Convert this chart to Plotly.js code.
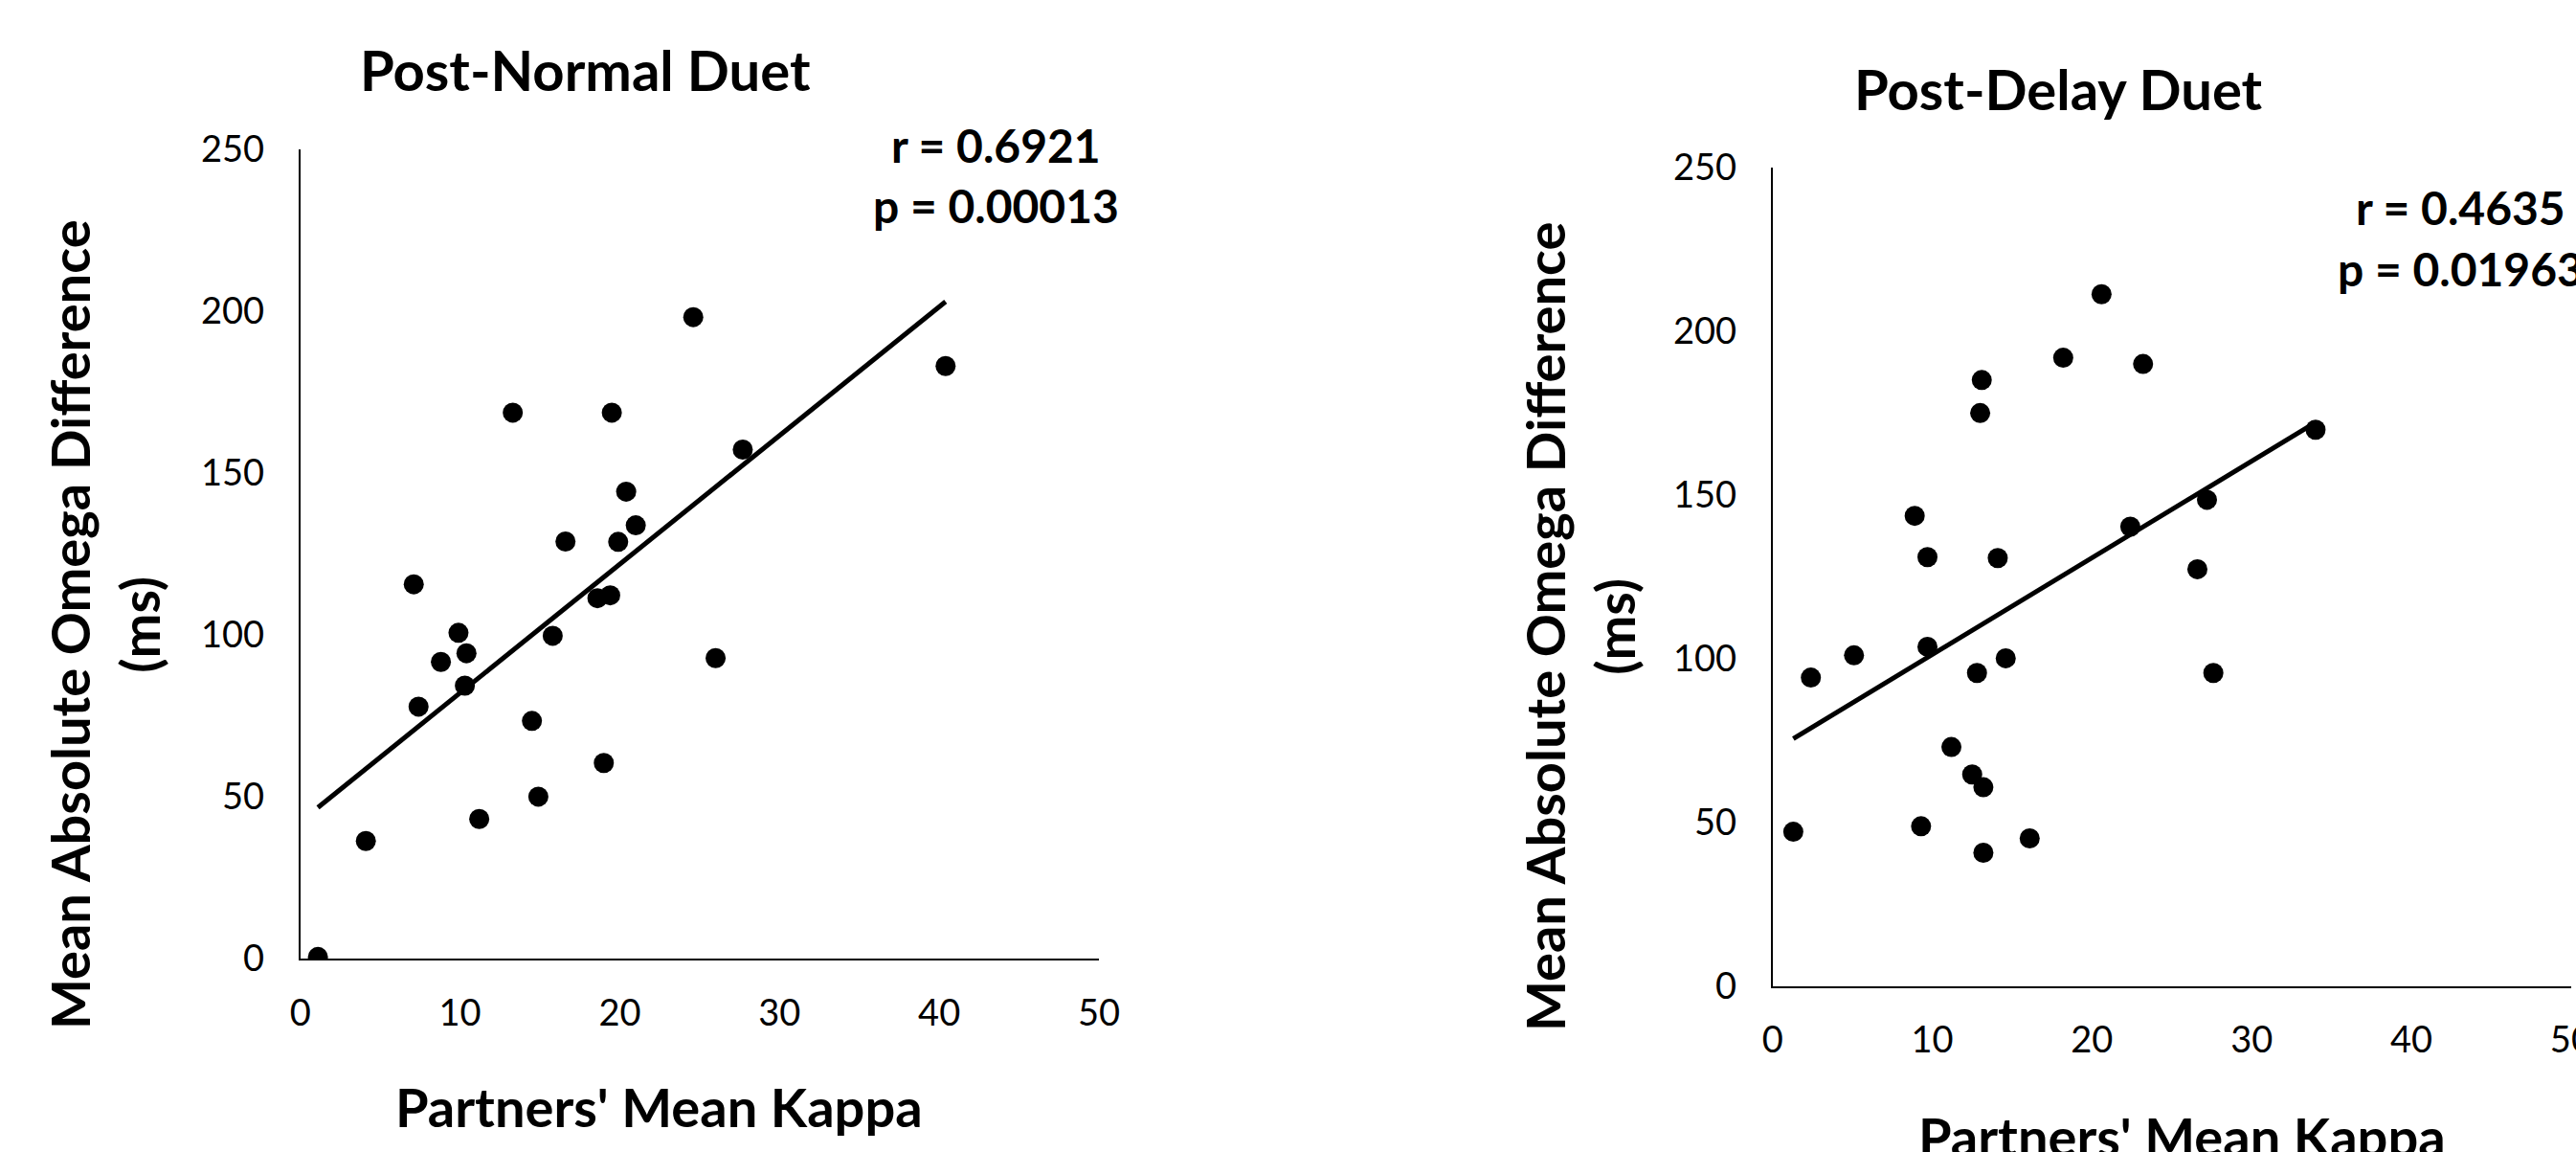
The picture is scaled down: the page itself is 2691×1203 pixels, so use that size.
<!DOCTYPE html>
<html>
<head>
<meta charset="utf-8">
<script src="https://cdn.plot.ly/plotly-3.0.1.min.js"></script>
<style>html,body{margin:0;padding:0;background:#fff;}#chart{width:2691px;height:1203px;}</style>
</head>
<body>
<div id="chart"></div>
<script>
// Post-Normal Duet
const normalKappa = [1.1, 4.1, 7.1, 7.4, 8.8, 9.9, 10.4, 10.3, 11.2, 13.3, 14.5, 14.9, 15.8, 16.6, 18.6, 19.4, 19.0, 19.5, 19.9, 20.4, 21.0, 24.6, 26.0, 27.7, 40.4];
const normalOmega = [0.5, 36.3, 115.6, 77.8, 91.6, 100.6, 94.3, 84.3, 43.1, 168.6, 73.4, 50.0, 99.7, 128.8, 111.3, 112.2, 60.4, 168.6, 128.7, 144.2, 133.8, 198.1, 92.8, 157.2, 183.0];
// Post-Delay Duet
const delayKappa = [1.3, 2.4, 5.1, 8.9, 9.3, 9.7, 9.7, 11.2, 12.5, 12.8, 13.0, 13.1, 13.2, 13.2, 14.1, 14.6, 16.1, 18.2, 20.6, 22.4, 23.2, 26.6, 27.2, 27.6, 34.0];
const delayOmega = [47.1, 94.2, 101.0, 143.6, 48.8, 131.0, 103.6, 73.0, 64.6, 95.6, 175.0, 185.1, 60.7, 40.7, 130.7, 100.1, 45.1, 191.9, 211.3, 140.3, 190.0, 127.3, 148.5, 95.6, 169.9];

const panelTitles = ["Post-Normal Duet", "Post-Delay Duet"];
const statsNormal = ["r = 0.6921", "p = 0.00013"];
const statsDelay = ["r = 0.4635", "p = 0.01963"];
const xTitle = "Partners' Mean Kappa";
const yTitle = "Mean Absolute Omega Difference<br>(ms)";

function fitLine(xs, ys) {
  const n = xs.length;
  const mx = xs.reduce((a, b) => a + b, 0) / n;
  const my = ys.reduce((a, b) => a + b, 0) / n;
  let sxy = 0, sxx = 0;
  for (let i = 0; i < n; i++) { sxy += (xs[i] - mx) * (ys[i] - my); sxx += (xs[i] - mx) ** 2; }
  const b = sxy / sxx, a = my - b * mx;
  const x0 = Math.min(...xs), x1 = Math.max(...xs);
  return { x: [x0, x1], y: [a + b * x0, a + b * x1] };
}

const FONT = "Lato, 'Open Sans', sans-serif";
const fitN = fitLine(normalKappa, normalOmega);
const fitD = fitLine(delayKappa, delayOmega);

const marker = { color: '#000', size: 21 };
const lineStyle = { color: '#000', width: 5 };

const traces = [
  { x: fitN.x, y: fitN.y, mode: 'lines', line: lineStyle, xaxis: 'x', yaxis: 'y', hoverinfo: 'skip' },
  { x: normalKappa, y: normalOmega, mode: 'markers', marker: marker, xaxis: 'x', yaxis: 'y' },
  { x: fitD.x, y: fitD.y, mode: 'lines', line: lineStyle, xaxis: 'x2', yaxis: 'y2', hoverinfo: 'skip' },
  { x: delayKappa, y: delayOmega, mode: 'markers', marker: marker, xaxis: 'x2', yaxis: 'y2' }
];

const tickFont = { family: FONT, size: 38, color: '#000' };
function xAxis(domain, anchor) {
  return { domain: domain, anchor: anchor, range: [0, 50], dtick: 10, tick0: 0, showgrid: false, zeroline: false,
    showline: true, linecolor: '#000', linewidth: 2, ticks: '', tickfont: tickFont, ticklabelstandoff: 22,
    ticklabeloverflow: 'allow', fixedrange: true };
}
function yAxis(domain, anchor) {
  return { domain: domain, anchor: anchor, range: [0, 250], dtick: 50, tick0: 0, showgrid: false, zeroline: false,
    showline: true, linecolor: '#000', linewidth: 2, ticks: '', tickfont: tickFont, ticklabelstandoff: 28,
    ticklabeloverflow: 'allow', fixedrange: true };
}

const bold = (size) => ({ family: FONT, size: size, color: '#000', weight: 700 });
function ann(text, x, y, size, extra) {
  return Object.assign({ text: '<b>' + text + '</b>', x: x, y: y, xref: 'paper', yref: 'paper', xanchor: 'center', yanchor: 'middle',
    showarrow: false, font: bold(size) }, extra || {});
}

const layout = {
  width: 2691, height: 1203,
  margin: { l: 0, r: 0, t: 0, b: 0 },
  paper_bgcolor: '#fff', plot_bgcolor: '#fff',
  showlegend: false,
  hovermode: false,
  xaxis: xAxis([0.1166, 0.4266], 'y'),
  yaxis: yAxis([0.1679, 0.8706], 'x'),
  xaxis2: xAxis([0.6881, 0.9981], 'y2'),
  yaxis2: yAxis([0.1441, 0.8546], 'x2'),
  annotations: [
    ann(panelTitles[0], 0.2274, 0.94, 58),
    ann(panelTitles[1], 0.7993, 0.923, 58),
    ann(statsNormal[0], 0.3868, 0.874, 48),
    ann(statsNormal[1], 0.3868, 0.8213, 48),
    ann(statsDelay[0], 0.9554, 0.8204, 48),
    ann(statsDelay[1], 0.9554, 0.7672, 48),
    ann(yTitle, 0.0405, 0.458, 56, { textangle: -90 }),
    ann(yTitle, 0.6132, 0.4564, 56, { textangle: -90 }),
    ann(xTitle, 0.256, 0.0391, 56),
    ann(xTitle, 0.8469, 0.0141, 56)
  ]
};

Plotly.newPlot('chart', traces, layout, { displayModeBar: false, staticPlot: true });
</script>
</body>
</html>
